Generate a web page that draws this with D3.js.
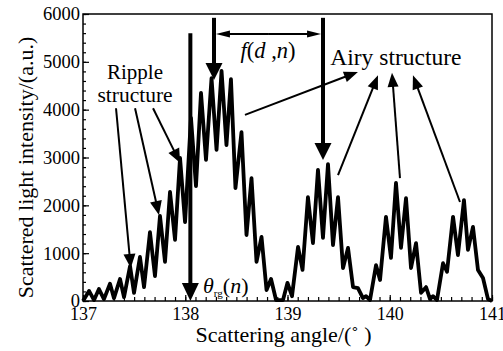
<!DOCTYPE html>
<html>
<head>
<meta charset="utf-8">
<script src="https://cdn.jsdelivr.net/npm/d3@7"></script>
<style>
  body { margin: 0; background: #fff; }
</style>
</head>
<body>
<div id="chart"></div>
<script>
// scattering angle (deg) at the peaks / troughs of the curve
const angles = [
  137.000, 137.059, 137.108, 137.156, 137.205, 137.264, 137.303, 137.362, 137.401, 137.460,
  137.499, 137.557, 137.597, 137.655, 137.704, 137.753, 137.802, 137.851, 137.900, 137.949,
  137.998, 138.056, 138.105, 138.154, 138.203, 138.257, 138.306, 138.355, 138.403, 138.447,
  138.491, 138.550, 138.599, 138.648, 138.697, 138.746, 138.795, 138.839, 138.888, 138.956,
  139.000, 139.044, 139.103, 139.147, 139.200, 139.249, 139.298, 139.347, 139.396, 139.445,
  139.494, 139.543, 139.592, 139.641, 139.689, 139.738, 139.768, 139.807, 139.866, 139.905,
  139.963, 140.012, 140.061, 140.110, 140.159, 140.208, 140.257, 140.306, 140.355, 140.394,
  140.423, 140.462, 140.521, 140.560, 140.619, 140.667, 140.726, 140.765, 140.814, 140.863,
  140.912, 140.961, 141.000
];
// scattered light intensity (a.u.)
const intensity = [
  0, 210, 20, 250, 40, 360, 60, 460, 80, 730,
  170, 920, 290, 1440, 520, 1780, 820, 2280, 1280, 2990,
  1650, 3830, 2400, 4350, 2950, 4660, 3160, 4810, 3260, 4640,
  2360, 3530, 1380, 2570, 820, 1340, 230, 460, 20, 20,
  380, 100, 1130, 650, 2170, 1210, 2740, 1320, 2860, 1170,
  2170, 690, 1110, 290, 270, 60, 100, 20, 750, 440,
  1760, 900, 2470, 1110, 2150, 690, 1210, 170, 290, 40,
  100, 20, 790, 610, 1760, 960, 2110, 1070, 1550, 650,
  480, 40, 0
];
const xTicks = [137, 138, 139, 140, 141];
const yTicks = [0, 1000, 2000, 3000, 4000, 5000, 6000];

const serif = '"Liberation Serif", "Times New Roman", "DejaVu Serif", serif';

const width = 503, height = 351;
const margin = {top: 14, right: 11, bottom: 50, left: 83};
const w = width - margin.left - margin.right;
const h = height - margin.top - margin.bottom;

const svg = d3.select('#chart').append('svg')
  .attr('width', width)
  .attr('height', height)
  .attr('font-family', serif);

const g = svg.append('g')
  .attr('transform', 'translate(' + margin.left + ',' + margin.top + ')');

const x = d3.scaleLinear().domain([137, 141]).range([0, w]);
const y = d3.scaleLinear().domain([0, 6000]).range([h, 0]);

// minor ticks
g.append('g')
  .attr('transform', 'translate(0,' + h + ')')
  .call(d3.axisBottom(x).tickValues(d3.range(137, 141.001, 0.1)).tickSize(-4).tickFormat(''))
  .call(s => s.select('.domain').remove())
  .selectAll('line').attr('stroke-width', 1.2);
g.append('g')
  .call(d3.axisLeft(y).tickValues(d3.range(0, 6001, 200)).tickSize(-3).tickFormat(''))
  .call(s => s.select('.domain').remove())
  .selectAll('line').attr('stroke-width', 1.2);

// major ticks + labels
const xAxis = g.append('g')
  .attr('transform', 'translate(0,' + h + ')')
  .call(d3.axisBottom(x).tickValues(xTicks).tickSize(-6).tickPadding(6).tickFormat(d3.format('d')));
xAxis.attr('font-family', serif).attr('font-size', 18);
xAxis.select('.domain').remove();
xAxis.selectAll('line').attr('stroke-width', 1.2);

const yAxis = g.append('g')
  .call(d3.axisLeft(y).tickValues(yTicks).tickSize(-6).tickPadding(3).tickFormat(d3.format('d')));
yAxis.attr('font-family', serif).attr('font-size', 18.5);
yAxis.select('.domain').remove();
yAxis.selectAll('line').attr('stroke-width', 1.2);

// frame
g.append('rect')
  .attr('width', w).attr('height', h)
  .attr('fill', 'none').attr('stroke', '#000').attr('stroke-width', 1.5);

// curve
const data = angles.map((a, i) => ({x: a, y: intensity[i]}));
g.append('path')
  .datum(data)
  .attr('fill', 'none')
  .attr('stroke', '#000')
  .attr('stroke-width', 3.8)
  .attr('stroke-linejoin', 'round')
  .attr('d', d3.line().x(d => x(d.x)).y(d => y(d.y)));

// arrows, given in data coordinates
function arrow(x0, y0, x1, y1, sw, hw, hl) {
  const px0 = x(x0), py0 = y(y0), px1 = x(x1), py1 = y(y1);
  const dx = px1 - px0, dy = py1 - py0, len = Math.hypot(dx, dy);
  const ux = dx / len, uy = dy / len;
  const bx = px1 - ux * hl, by = py1 - uy * hl;
  g.append('line')
    .attr('x1', px0).attr('y1', py0).attr('x2', bx + ux).attr('y2', by + uy)
    .attr('stroke', '#000').attr('stroke-width', sw);
  g.append('polygon')
    .attr('points', [[px1, py1], [bx - uy * hw, by + ux * hw], [bx + uy * hw, by - ux * hw]].join(' '))
    .attr('fill', '#000');
}

// theta_rg arrow
arrow(138.05, 5600, 138.05, 0, 4, 8.5, 18);
// f(d,n) arrows
arrow(138.281, 5920, 138.281, 4620, 4, 8.5, 17);
arrow(139.347, 5920, 139.347, 2950, 4, 8.5, 17);
arrow(138.81, 5580, 138.300, 5580, 2, 3.5, 14);
arrow(138.81, 5580, 139.328, 5580, 2, 3.5, 14);

// ripple arrows
arrow(137.323, 4030, 137.467, 690, 2, 6, 14);
arrow(137.509, 4030, 137.743, 1800, 2, 6, 14);
arrow(137.685, 4030, 137.949, 2890, 2, 6, 14);

// airy arrows
arrow(138.584, 3890, 139.689, 4790, 2, 5.5, 14);
arrow(139.494, 2630, 139.885, 4720, 2, 5.5, 14);
arrow(140.100, 2570, 140.022, 4770, 2, 5.5, 14);
arrow(140.687, 2070, 140.227, 4720, 2, 5.5, 14);

// labels
g.append('text').attr('x', x(137.509)).attr('y', y(4640))
  .attr('text-anchor', 'middle').attr('font-size', 21).text('Ripple');
g.append('text').attr('x', x(137.509)).attr('y', y(4160))
  .attr('text-anchor', 'middle').attr('font-size', 21.5).text('structure');
g.append('text').attr('x', x(140.06)).attr('y', y(4930))
  .attr('text-anchor', 'middle').attr('font-size', 23.5).text('Airy structure');

const f = g.append('text').attr('x', x(138.81)).attr('y', y(5080))
  .attr('text-anchor', 'middle').attr('font-size', 22.5);
f.append('tspan').attr('font-style', 'italic').text('f');
f.append('tspan').text('(');
f.append('tspan').attr('font-style', 'italic').text('d');
f.append('tspan').text(' ,');
f.append('tspan').attr('font-style', 'italic').text('n');
f.append('tspan').text(')');

const th = g.append('text').attr('x', x(138.174)).attr('y', y(170))
  .attr('font-size', 22);
th.append('tspan').attr('font-style', 'italic').text('θ');
th.append('tspan').attr('dy', 4).attr('font-size', 11).text('rg');
th.append('tspan').attr('dy', -4).text('(');
th.append('tspan').attr('font-style', 'italic').text('n');
th.append('tspan').text(')');

// axis titles
svg.append('text')
  .attr('x', margin.left + w / 2 - 4).attr('y', 342)
  .attr('text-anchor', 'middle').attr('font-size', 22)
  .text('Scattering angle/(˚ )');
svg.append('text')
  .attr('transform', 'translate(33,' + (margin.top + h / 2 + 10) + ') rotate(-90)')
  .attr('text-anchor', 'middle').attr('font-size', 22)
  .text('Scattered light intensity/(a.u.)');
</script>
</body>
</html>
